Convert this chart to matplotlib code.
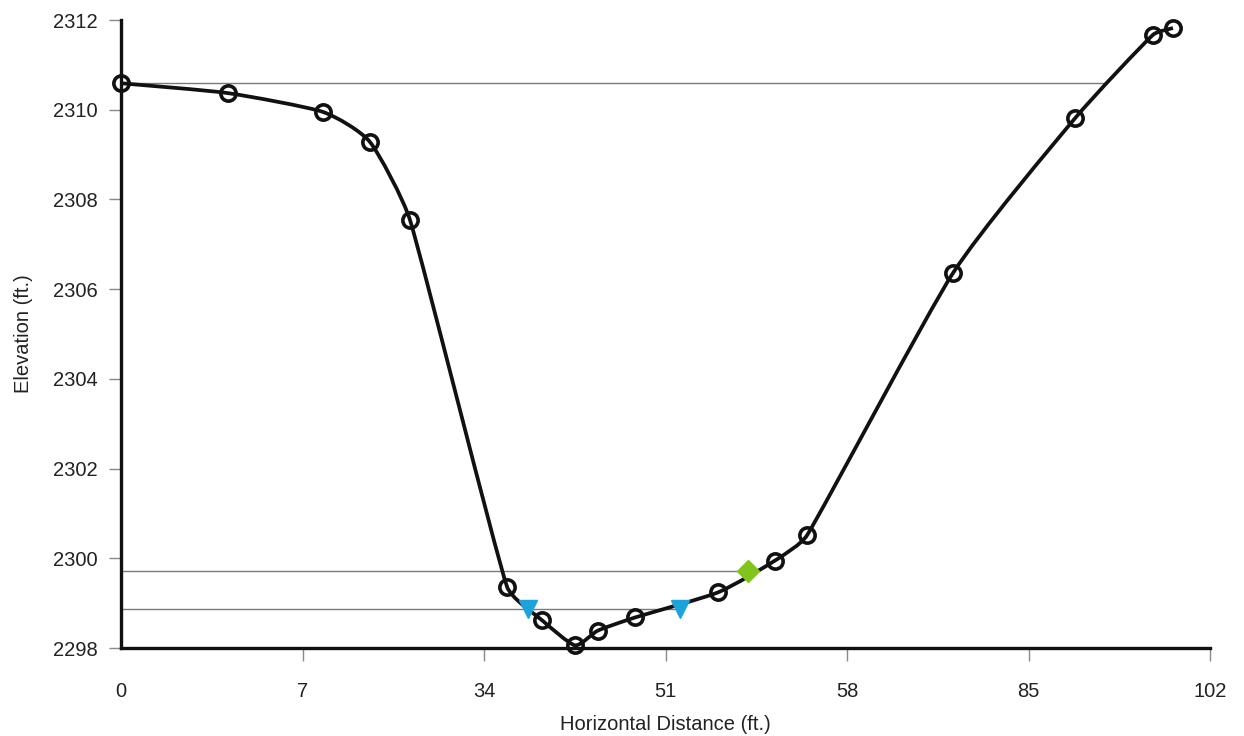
import numpy as np
import matplotlib.pyplot as plt
from matplotlib.path import Path
import matplotlib.patches as mpatches

plt.rcParams['font.family'] = ['Liberation Sans', 'DejaVu Sans']

# ground profile (x in plot units 0..102, ticks relabelled below)
station = [0.0, 10.02, 18.92, 23.32, 27.07, 36.15, 39.43, 42.52, 44.68, 48.14,
           55.92, 61.26, 64.25, 77.93, 89.36, 96.66, 98.53]
elev = [2310.59, 2310.37, 2309.95, 2309.28, 2307.54, 2299.37, 2298.62, 2298.06,
        2298.39, 2298.68, 2299.24, 2299.95, 2300.51, 2306.36, 2309.81, 2311.67, 2311.82]

# water surface markers
tri_x = [38.12, 52.36]
tri_y = [2298.88, 2298.88]
dia_x = [58.73]
dia_y = [2299.71]

# horizontal reference levels and where they stop
level_y = [2310.59, 2299.71, 2298.88]
level_end = [92.35, 58.73, 52.36]

xtick_pos = [0, 17, 34, 51, 68, 85, 102]
xtick_lab = ['0', '7', '34', '51', '58', '85', '102']
ytick_pos = [2298, 2300, 2302, 2304, 2306, 2308, 2310, 2312]


def smooth_path(xs, ys, sx, sy, k=0.1, cap_frac=0.25):
    # gentle smoothed line: bezier segments through the points,
    # handles limited to a share of the segment so it does not overshoot
    p = np.column_stack([xs, ys]) * [sx, sy]
    n = len(p)
    verts = [p[0]]
    codes = [Path.MOVETO]

    def handle(t, seg):
        ln = np.hypot(*t)
        cap = cap_frac * np.hypot(*seg)
        return t if ln <= cap or ln == 0 else t * cap / ln

    for i in range(n - 1):
        p0 = p[i - 1] if i > 0 else p[i]
        p1 = p[i]
        p2 = p[i + 1]
        p3 = p[i + 2] if i + 2 < n else p[i + 1]
        seg = p2 - p1
        c1 = p1 + handle((p2 - p0) * k, seg)
        c2 = p2 - handle((p3 - p1) * k, seg)
        verts += [c1, c2, p2]
        codes += [Path.CURVE4] * 3
    verts = np.array(verts) / [sx, sy]
    return Path(verts, codes)


fig = plt.figure(figsize=(12.44, 7.36), dpi=100)
ax = fig.add_axes([121 / 1244, 1 - 648 / 736, 1089 / 1244, 628 / 736])

ax.hlines(level_y, 0, level_end, color='#7a7a7a', lw=1.0, zorder=1)

prof = mpatches.PathPatch(smooth_path(station, elev, 1089 / 102, 628 / 14),
                          fc='none', ec='#111111', lw=2.7, zorder=3, clip_on=False)
ax.add_patch(prof)
ax.plot(station, elev, ls='none', marker='o', ms=11,
        mfc='none', mec='#111111', mew=2.6, zorder=3, clip_on=False)
ax.plot(tri_x, tri_y, ls='none', marker='v', ms=13, color='#1ca3d9', zorder=4)
ax.plot(dia_x, dia_y, ls='none', marker='D', ms=11, color='#80c41c', zorder=4)

ax.set_xlim(0, 102)
ax.set_ylim(2298, 2312)
ax.set_xticks(xtick_pos)
ax.set_xticklabels(xtick_lab)
ax.set_yticks(ytick_pos)

for s in ['top', 'right']:
    ax.spines[s].set_visible(False)
for s in ['left', 'bottom']:
    ax.spines[s].set_linewidth(2.4)
    ax.spines[s].set_color('#111111')

ax.tick_params(axis='x', length=9.5, width=1, color='#888888', pad=15,
               labelsize=14.5, labelcolor='#222222')
ax.tick_params(axis='y', length=9, width=1, color='#888888', pad=8,
               labelsize=14.5, labelcolor='#222222')
ax.xaxis.get_major_ticks()[0].tick1line.set_visible(False)

ax.set_xlabel('Horizontal Distance (ft.)', fontsize=14.5, color='#222222', labelpad=10)
ax.set_ylabel('Elevation (ft.)', fontsize=14.5, color='#222222', labelpad=14)

fig.savefig('out.png', dpi=100)
